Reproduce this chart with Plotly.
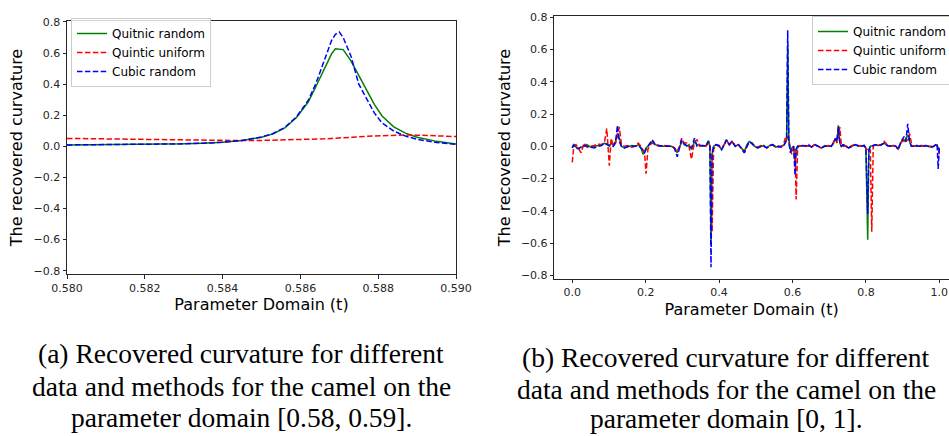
import plotly.graph_objects as go

# ---------------- (a) zoomed view on [0.58, 0.59] ----------------
t_zoom = [0.5800, 0.5810, 0.5820, 0.5830, 0.5835, 0.5840, 0.5845, 0.5850, 0.5853, 0.5856,
          0.5859, 0.5862, 0.5864, 0.5866, 0.5868, 0.5869, 0.5870, 0.5871, 0.5873, 0.5875,
          0.5877, 0.5879, 0.5881, 0.5884, 0.5887, 0.5890, 0.5895, 0.5900]
quintic_random_zoom = [0.009, 0.010, 0.012, 0.016, 0.020, 0.026, 0.037, 0.058, 0.080, 0.118,
                       0.185, 0.285, 0.385, 0.495, 0.595, 0.628, 0.627, 0.622, 0.550, 0.455,
                       0.360, 0.270, 0.195, 0.125, 0.085, 0.058, 0.032, 0.015]
quintic_uniform_zoom = [0.051, 0.047, 0.043, 0.039, 0.038, 0.037, 0.037, 0.038, 0.039, 0.040,
                        0.042, 0.044, 0.046, 0.048, 0.051, 0.052, 0.054, 0.055, 0.058, 0.061,
                        0.064, 0.067, 0.069, 0.071, 0.073, 0.072, 0.069, 0.063]
cubic_random_zoom = [0.009, 0.010, 0.012, 0.016, 0.020, 0.026, 0.038, 0.060, 0.083, 0.122,
                     0.190, 0.295, 0.405, 0.545, 0.680, 0.720, 0.735, 0.700, 0.580, 0.400,
                     0.310, 0.215, 0.150, 0.098, 0.066, 0.045, 0.025, 0.013]

# ---------------- (b) full parameter domain [0, 1] ----------------
t_full = [
    0.000, 0.004, 0.010, 0.016, 0.024, 0.032, 0.040, 0.050, 0.060, 0.070,
    0.080, 0.088, 0.094, 0.101, 0.106, 0.112, 0.118, 0.123, 0.128, 0.134,
    0.142, 0.152, 0.162, 0.172, 0.180, 0.187, 0.193, 0.197, 0.201, 0.206,
    0.212, 0.218, 0.226, 0.236, 0.248, 0.260, 0.270, 0.278, 0.286, 0.292,
    0.298, 0.305, 0.312, 0.318, 0.325, 0.333, 0.340, 0.348, 0.356, 0.364,
    0.371, 0.375, 0.378, 0.381, 0.385, 0.392, 0.400, 0.407, 0.414, 0.420,
    0.428, 0.435, 0.444, 0.452, 0.460, 0.469, 0.476, 0.482, 0.490, 0.497,
    0.505, 0.514, 0.522, 0.530, 0.538, 0.546, 0.554, 0.562, 0.570, 0.576,
    0.580, 0.584, 0.587, 0.590, 0.594, 0.598, 0.603, 0.607, 0.610, 0.614,
    0.620, 0.628, 0.636, 0.644, 0.652, 0.661, 0.670, 0.679, 0.688, 0.697,
    0.706, 0.712, 0.717, 0.721, 0.725, 0.729, 0.733, 0.738, 0.745, 0.753,
    0.762, 0.771, 0.780, 0.788, 0.795, 0.800, 0.805, 0.808, 0.812, 0.816,
    0.820, 0.826, 0.834, 0.842, 0.850, 0.858, 0.866, 0.874, 0.882, 0.888,
    0.894, 0.899, 0.904, 0.909, 0.914, 0.919, 0.924, 0.930, 0.938, 0.946,
    0.954, 0.962, 0.970, 0.978, 0.985, 0.990, 0.994, 0.997, 1.000,
]
quintic_random_full = [
    -0.010, 0.010, -0.005, -0.015, -0.005, 0.000, 0.010, -0.005, 0.000, 0.005,
    0.010, 0.020, 0.010, 0.000, 0.020, 0.010, 0.030, 0.080, 0.050, 0.000,
    -0.010, 0.000, 0.005, 0.000, 0.010, -0.010, -0.050, -0.030, -0.010, 0.000,
    0.020, 0.030, 0.010, 0.005, 0.000, 0.000, 0.000, -0.010, -0.040, -0.010,
    0.030, 0.020, 0.000, 0.010, -0.020, 0.030, 0.010, 0.005, 0.000, 0.005,
    0.035, 0.000, -0.600, -0.050, 0.000, 0.010, 0.000, -0.020, 0.010, 0.040,
    0.010, 0.030, 0.000, 0.010, -0.010, -0.030, 0.010, 0.030, 0.020, 0.000,
    -0.010, 0.000, 0.005, -0.010, 0.005, 0.010, -0.005, 0.000, 0.000, 0.005,
    0.020, 0.040, 0.630, 0.050, -0.020, -0.010, 0.000, -0.100, -0.030, 0.000,
    0.000, 0.005, 0.000, 0.005, -0.005, 0.010, 0.000, -0.010, 0.005, 0.000,
    0.000, 0.030, 0.040, 0.030, 0.130, 0.020, 0.000, 0.010, 0.000, -0.010,
    0.000, 0.010, 0.005, 0.000, 0.005, -0.010, -0.580, -0.020, 0.000, 0.005,
    0.005, 0.010, 0.005, 0.010, 0.020, 0.005, 0.000, 0.005, 0.000, -0.020,
    0.020, 0.040, 0.030, 0.050, 0.070, 0.030, 0.000, 0.000, 0.005, 0.000,
    0.000, 0.005, 0.000, -0.005, 0.000, 0.010, 0.010, -0.020, -0.010,
]
quintic_uniform_full = [
    -0.100, 0.000, 0.010, -0.010, -0.040, 0.020, -0.005, 0.000, 0.005, 0.015,
    0.010, 0.030, 0.110, -0.120, 0.050, 0.000, 0.020, 0.060, 0.120, 0.010,
    0.000, 0.005, -0.005, 0.000, 0.020, 0.000, -0.020, -0.040, -0.170, -0.020,
    0.010, 0.020, 0.010, 0.000, 0.005, 0.000, 0.000, -0.010, -0.030, 0.000,
    0.050, 0.020, 0.020, 0.000, -0.080, 0.030, 0.040, 0.000, 0.005, 0.000,
    0.020, 0.000, -0.050, -0.530, -0.020, 0.010, 0.000, -0.010, 0.010, 0.035,
    0.010, 0.030, 0.005, 0.010, -0.010, -0.040, 0.000, 0.020, 0.020, 0.000,
    -0.005, 0.005, 0.000, -0.010, 0.000, 0.010, 0.000, -0.005, 0.000, 0.010,
    0.050, 0.040, 0.060, 0.030, -0.030, -0.050, 0.000, -0.020, -0.330, -0.010,
    0.005, 0.000, 0.005, 0.000, 0.000, 0.010, -0.005, -0.010, 0.000, 0.005,
    0.000, 0.020, 0.050, 0.020, 0.060, 0.120, 0.010, 0.000, 0.005, -0.010,
    0.005, 0.010, 0.000, 0.005, 0.000, -0.010, -0.020, -0.030, -0.020, -0.530,
    0.000, 0.010, 0.005, 0.010, 0.030, 0.010, 0.000, 0.005, 0.000, -0.015,
    0.020, 0.030, 0.050, 0.030, 0.040, 0.080, 0.020, 0.000, 0.000, 0.005,
    0.005, 0.000, 0.000, 0.000, -0.005, 0.010, 0.005, -0.010, -0.050,
]
cubic_random_full = [
    -0.010, 0.010, -0.010, -0.015, -0.005, 0.005, 0.000, -0.005, -0.010, 0.000,
    0.005, 0.020, 0.015, 0.005, 0.010, 0.000, 0.030, 0.130, 0.030, 0.000,
    -0.010, 0.000, 0.000, 0.005, 0.005, -0.010, -0.030, -0.040, -0.020, 0.000,
    0.020, 0.040, 0.010, 0.005, 0.000, 0.000, 0.000, -0.010, -0.065, -0.010,
    0.040, 0.010, 0.005, 0.000, -0.010, 0.050, 0.000, 0.005, 0.005, 0.000,
    0.030, 0.000, -0.750, -0.050, 0.000, 0.010, 0.005, -0.020, 0.010, 0.040,
    0.010, 0.030, 0.000, 0.015, -0.010, -0.040, 0.000, 0.030, 0.015, 0.000,
    -0.010, 0.000, 0.000, -0.010, 0.005, 0.010, -0.005, 0.000, -0.005, 0.005,
    0.020, 0.040, 0.720, 0.030, -0.040, -0.010, 0.000, -0.180, -0.020, 0.000,
    0.000, 0.005, 0.000, 0.010, -0.005, 0.010, 0.000, -0.010, 0.000, 0.000,
    0.000, 0.020, 0.050, 0.030, 0.120, 0.020, 0.000, 0.010, 0.000, -0.010,
    0.000, 0.010, 0.000, 0.000, 0.005, -0.010, -0.420, -0.030, 0.000, 0.000,
    0.005, 0.010, 0.005, 0.010, 0.020, 0.005, 0.000, 0.005, 0.000, -0.020,
    0.020, 0.040, 0.060, 0.030, 0.140, 0.030, 0.000, 0.000, 0.005, 0.000,
    0.000, 0.005, 0.000, -0.005, 0.000, 0.010, 0.015, -0.140, -0.010,
]

series_names = ["Quitnic random", "Quintic uniform", "Cubic random"]
y_ticks = [-0.8, -0.6, -0.4, -0.2, 0.0, 0.2, 0.4, 0.6, 0.8]
x_ticks_zoom = [0.580, 0.582, 0.584, 0.586, 0.588, 0.590]
x_ticks_full = [0.0, 0.2, 0.4, 0.6, 0.8, 1.0]
caption_a = ["(a) Recovered curvature for different",
             "data and methods for the camel on the",
             "parameter domain [0.58, 0.59]."]
caption_b = ["(b) Recovered curvature for different",
             "data and methods for the camel on the",
             "parameter domain [0, 1]."]

W, H = 949, 436
DASH = "5.5px,2.4px"
styles = [dict(color="#008000", width=1.5, dash="solid"),
          dict(color="#ff0000", width=1.5, dash=DASH),
          dict(color="#0000ff", width=1.5, dash=DASH)]

fig = go.Figure()
zoom_sets = [quintic_random_zoom, quintic_uniform_zoom, cubic_random_zoom]
full_sets = [quintic_random_full, quintic_uniform_full, cubic_random_full]
for name, ys, st in zip(series_names, zoom_sets, styles):
    fig.add_trace(go.Scatter(x=t_zoom, y=ys, mode="lines", name=name, line=st,
                             xaxis="x", yaxis="y", legend="legend"))
for name, ys, st in zip(series_names, full_sets, styles):
    fig.add_trace(go.Scatter(x=t_full, y=ys, mode="lines", name=name, line=st,
                             xaxis="x2", yaxis="y2", legend="legend2"))

tick_font = dict(family="DejaVu Sans", size=11, color="#262626")
title_font = dict(family="DejaVu Sans", size=16, color="#000000")
legend_font = dict(family="DejaVu Sans", size=12, color="#000000")
axis_common = dict(showgrid=False, zeroline=False, showline=True, linecolor="#262626",
                   linewidth=1, ticks="outside", ticklen=3.5, tickwidth=0.8,
                   tickcolor="#262626", tickfont=tick_font, automargin=False)


def py(px):
    return 1 - px / H


caption_font = dict(family="Liberation Serif", size=27.5, color="#000000")
annotations = []
for lines, cx, rows in [(caption_a, 241, [353, 386, 417]), (caption_b, 726, [357, 389, 418])]:
    for text, ry in zip(lines, rows):
        annotations.append(dict(text=text, x=cx / W, y=py(ry), xref="paper", yref="paper",
                                xanchor="center", yanchor="middle", showarrow=False,
                                font=caption_font))

fig.update_layout(
    width=W, height=H, margin=dict(l=0, r=0, t=0, b=0, autoexpand=False),
    paper_bgcolor="white", plot_bgcolor="white",
    xaxis=dict(domain=[67 / W, 456 / W], range=[0.580, 0.590], anchor="y",
               tickvals=x_ticks_zoom, tickformat=".3f", mirror=True,
               title=dict(text="Parameter Domain (t)", font=title_font, standoff=5),
               **axis_common),
    yaxis=dict(domain=[py(274), py(21)], range=[-0.821, 0.806], anchor="x",
               tickvals=y_ticks, tickformat=".1f", mirror=True,
               title=dict(text="The recovered curvature", font=title_font, standoff=6),
               **axis_common),
    xaxis2=dict(domain=[554.3 / W, 1.0], range=[-0.049, -0.049 + (W - 554.3) / 367.0],
                anchor="y2", tickvals=x_ticks_full, tickformat=".1f", mirror=True,
                title=dict(text="Parameter Domain (t)", font=title_font, standoff=5),
                **axis_common),
    yaxis2=dict(domain=[py(278.7), py(16.3)], range=[-0.821, 0.806], anchor="x2",
                tickvals=y_ticks, tickformat=".1f",
                title=dict(text="The recovered curvature", font=title_font, standoff=6),
                **axis_common),
    legend=dict(x=71 / W, y=py(18), xanchor="left", yanchor="top",
                bgcolor="rgba(255,255,255,0.8)", bordercolor="#cccccc", borderwidth=1,
                font=legend_font, tracegroupgap=0, itemwidth=30),
    legend2=dict(x=812 / W, y=py(16), xanchor="left", yanchor="top",
                 bgcolor="rgba(255,255,255,0.8)", bordercolor="#cccccc", borderwidth=1,
                 font=legend_font, tracegroupgap=0, itemwidth=30),
    annotations=annotations,
)

fig.write_html("out.html")
